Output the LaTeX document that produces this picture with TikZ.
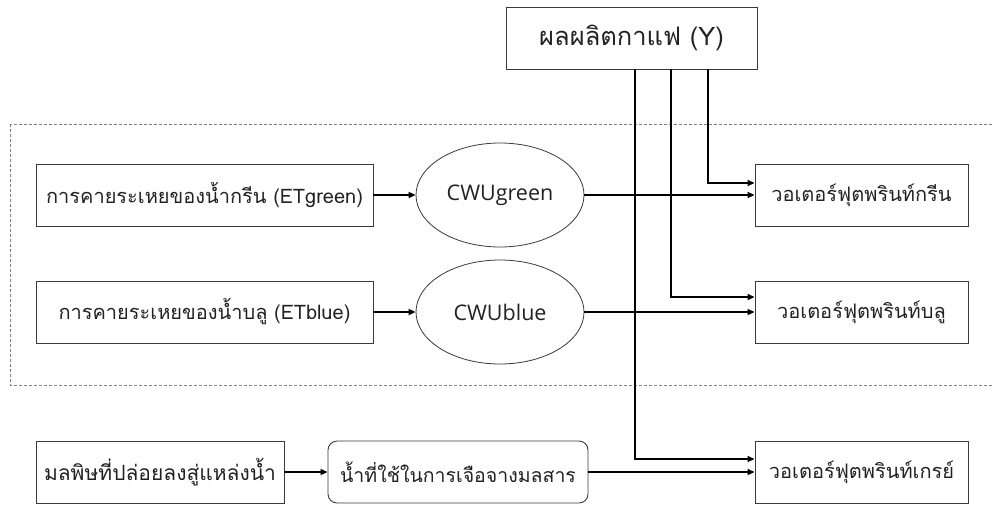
\documentclass[tikz,border=0pt]{standalone}
\usepackage{fontspec}
\setmainfont{Loma}[Script=Thai]
\newfontfamily\latinfont{Open Sans}
\usetikzlibrary{shapes.geometric,arrows.meta}
\definecolor{ink}{HTML}{222222}
\definecolor{edge}{HTML}{3A3A3A}
\tikzset{
  every node/.style={text=ink},
  plainbox/.style={draw=edge,line width=0.9pt,rectangle,inner sep=0pt,
    minimum height=62pt,font=\fontsize{20}{22}\selectfont},
  roundbox/.style={plainbox,rounded corners=9pt},
  oval/.style={draw=edge,line width=0.8pt,ellipse,inner sep=0pt,
    minimum width=168pt,minimum height=104pt,font=\latinfont\fontsize{21.5}{23}\selectfont},
  conn/.style={line width=1.8pt,-{Triangle[length=7pt,width=6pt]}},
  frame/.style={draw=gray,line width=0.8pt,dash pattern=on 3pt off 2pt}
}
\begin{document}
\begin{tikzpicture}[x=1pt,y=-1pt]
  \useasboundingbox (0,0) rectangle (992,504);
  % dashed frame around the evapotranspiration part
  \draw[frame] (10,124) rectangle (1000,385);
  % nodes
  \node[plainbox,minimum width=251pt,font=\fontsize{25.5}{27}\selectfont] (top) at (631.5,38) {ผลผลิตกาแฟ (Y)};
  \node[plainbox,minimum width=337pt] (etg) at (204.5,195) {การคายระเหยของน้ำกรีน (ETgreen)};
  \node[plainbox,minimum width=337pt] (etb) at (204.5,312) {การคายระเหยของน้ำบลู (ETblue)};
  \node[oval] (cwug) at (500,195) {CWUgreen};
  \node[oval] (cwub) at (500,312) {CWUblue};
  \node[plainbox,minimum width=213pt] (wfg) at (861.5,195) {วอเตอร์ฟุตพรินท์กรีน};
  \node[plainbox,minimum width=213pt] (wfb) at (861.5,312.5) {วอเตอร์ฟุตพรินท์บลู};
  \node[plainbox,minimum width=213pt] (wfy) at (861.5,472) {วอเตอร์ฟุตพรินท์เกรย์};
  \node[plainbox,minimum width=248pt,font=\fontsize{21}{23}\selectfont] (pol) at (160,472) {มลพิษที่ปล่อยลงสู่แหล่งน้ำ};
  \node[roundbox,minimum width=260pt,font=\fontsize{19.5}{22}\selectfont] (dil) at (458,472) {น้ำที่ใช้ในการเจือจางมลสาร};
  % connectors
  \draw[conn] (etg.east) -- (cwug.west);
  \draw[conn] (etb.east) -- (cwub.west);
  \draw[conn] (cwug.east) -- (cwug.east -| wfg.west);
  \draw[conn] (cwub.east) -- (cwub.east -| wfb.west);
  \draw[conn] (pol.east) -- (dil.west);
  \draw[conn] (dil.east) -- (dil.east -| wfy.west);
  \draw[conn] ([xshift=76.5pt]top.south) |- ([yshift=12pt]wfg.west);
  \draw[conn] ([xshift=39.5pt]top.south) |- ([yshift=15.5pt]wfb.west);
  \draw[conn] ([xshift=3.5pt]top.south) |- ([yshift=13pt]wfy.west);
\end{tikzpicture}
\end{document}
